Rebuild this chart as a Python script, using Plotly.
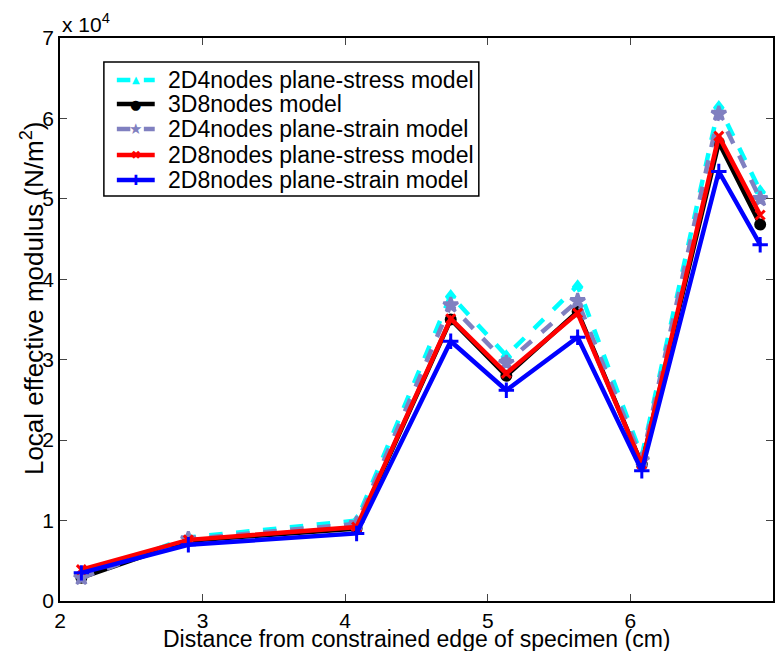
import plotly.graph_objects as go

x = [2.15, 2.90, 4.08, 4.74, 5.13, 5.63, 6.08, 6.62, 6.91]
series_names = [
    "2D4nodes plane-stress model",
    "3D8nodes model",
    "2D4nodes plane-strain model",
    "2D8nodes plane-stress model",
    "2D8nodes plane-strain model",
]
y_2d4_stress = [3000, 7900, 10000, 38000, 30500, 39200, 18000, 61500, 51000]
y_3d8 = [2900, 7500, 9000, 35000, 28000, 36000, 17000, 57000, 46800]
y_2d4_strain = [2900, 7700, 9600, 36800, 29600, 37300, 17500, 60600, 50000]
y_2d8_stress = [3900, 7600, 9200, 35100, 28300, 35800, 17000, 57800, 48000]
y_2d8_strain = [3500, 7000, 8400, 32300, 26200, 32800, 16200, 53400, 44300]
x_ticks = [2, 3, 4, 5, 6, 7]
y_ticks = [0, 10000, 20000, 30000, 40000, 50000, 60000, 70000]
y_ticklabels = ["0", "1", "2", "3", "4", "5", "6", "7"]

styles = [
    dict(color="#00FFFF", dash="dash", symbol="triangle-up", size=8, glyph="\u25B2", gsize=10),
    dict(color="#000000", dash="solid", symbol="circle", size=9, glyph="\u25CF", gsize=13),
    dict(color="#8080C0", dash="dash", symbol="star", size=11, glyph="\u2605", gsize=15),
    dict(color="#FF0000", dash="solid", symbol="x-thin", size=9, glyph="\u2716", gsize=12),
    dict(color="#0000FF", dash="solid", symbol="cross-thin", size=11, glyph="\u271A", gsize=14),
]
ys = [y_2d4_stress, y_3d8, y_2d4_strain, y_2d8_stress, y_2d8_strain]

FONT = "Liberation Sans, Arial, sans-serif"
W, H = 776, 651
L, R, T, B = 60, 1, 38, 50
PW, PH = W - L - R, H - T - B


def px(xp):
    return (xp - L) / PW


def py(yp):
    return (H - B - yp) / PH


fig = go.Figure()
for name, yv, st in zip(series_names, ys, styles):
    fig.add_trace(go.Scatter(
        x=x, y=yv, name=name, mode="lines+markers", showlegend=False,
        line=dict(color=st["color"], width=4.5, dash=st["dash"]),
        marker=dict(symbol=st["symbol"], size=st["size"], color=st["color"],
                    line=dict(color=st["color"], width=3)),
    ))

# Legend drawn as box + line samples + texts
shapes = [dict(type="rect", xref="paper", yref="paper",
               x0=px(104), x1=px(480), y0=py(196), y1=py(62),
               line=dict(color="black", width=1.5), fillcolor="white", layer="above")]
annotations = []
row_y = [80, 104, 129, 155, 180]
for name, st, ry in zip(series_names, styles, row_y):
    shapes.append(dict(type="line", xref="paper", yref="paper",
                       x0=px(117), x1=px(155), y0=py(ry), y1=py(ry),
                       line=dict(color=st["color"], width=4.5,
                                 dash="dash" if st["dash"] == "dash" else "solid"),
                       layer="above"))
    annotations.append(dict(text=st["glyph"], x=px(136), y=py(ry), xref="paper", yref="paper",
                            xanchor="center", yanchor="middle", showarrow=False,
                            font=dict(family="DejaVu Sans", size=st["gsize"], color=st["color"])))
    annotations.append(dict(text=name, x=px(166), y=py(ry), xref="paper", yref="paper",
                            xanchor="left", yanchor="middle", showarrow=False,
                            font=dict(family=FONT, size=23, color="black")))

annotations += [
    dict(text="x 10<sup>4</sup>", x=0, y=1.0, xref="paper", yref="paper",
         xanchor="left", yanchor="bottom", showarrow=False,
         font=dict(family=FONT, size=21, color="black")),
    dict(text="Distance from constrained edge of specimen (cm)", x=0.5, y=py(639),
         xref="paper", yref="paper", xanchor="center", yanchor="middle",
         showarrow=False,
         font=dict(family=FONT, size=23, color="black")),
    dict(text="Local effective modulus (N/m<sup>2</sup>)", x=px(32), y=py(298),
         xref="paper", yref="paper", xanchor="center", yanchor="middle",
         textangle=-90, showarrow=False,
         font=dict(family=FONT, size=26, color="black")),
]

axis_font = dict(family=FONT, size=21, color="black")
fig.update_layout(
    width=W, height=H,
    margin=dict(l=L, r=R, t=T, b=B),
    paper_bgcolor="white", plot_bgcolor="white",
    font=axis_font,
    showlegend=False,
    xaxis=dict(range=[2, 7], tickvals=x_ticks, ticks="inside", ticklen=7,
               showline=True, linecolor="black", linewidth=1.5, mirror="ticks",
               showgrid=False, zeroline=False, tickfont=axis_font),
    yaxis=dict(range=[0, 70000], tickvals=y_ticks, ticktext=y_ticklabels,
               ticks="inside", ticklen=7,
               showline=True, linecolor="black", linewidth=1.5, mirror="ticks",
               showgrid=False, zeroline=False, tickfont=axis_font),
    shapes=shapes,
    annotations=annotations,
)
fig.write_html("out.html")
